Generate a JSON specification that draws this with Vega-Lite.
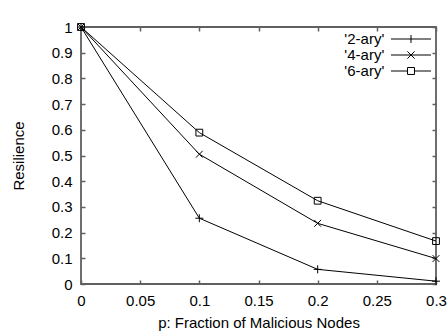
{
  "$schema": "https://vega.github.io/schema/vega-lite/v6.json",
  "width": 355,
  "height": 257,
  "autosize": {"type": "none"},
  "padding": {"left": 81, "top": 27, "right": 12, "bottom": 51},
  "background": "white",
  "config": {
    "view": {"stroke": "#606060", "strokeWidth": 1.8},
    "font": "Liberation Sans",
    "axis": {
      "domain": false,
      "grid": false,
      "tickColor": "#606060",
      "tickWidth": 1.5,
      "tickSize": -4,
      "labelFont": "Liberation Sans",
      "labelFontSize": 15,
      "labelColor": "black",
      "labelPadding": 13,
      "labelFlush": false,
      "labelOverlap": false,
      "titleFont": "Liberation Sans",
      "titleFontSize": 15,
      "titleFontWeight": "normal",
      "titleColor": "black"
    }
  },
  "data": {
    "values": [
      {"series": "'2-ary'", "p": 0, "r": 1},
      {"series": "'2-ary'", "p": 0.1, "r": 0.256},
      {"series": "'2-ary'", "p": 0.2, "r": 0.057},
      {"series": "'2-ary'", "p": 0.3, "r": 0.011},
      {"series": "'4-ary'", "p": 0, "r": 1},
      {"series": "'4-ary'", "p": 0.1, "r": 0.505},
      {"series": "'4-ary'", "p": 0.2, "r": 0.236},
      {"series": "'4-ary'", "p": 0.3, "r": 0.099},
      {"series": "'6-ary'", "p": 0, "r": 1},
      {"series": "'6-ary'", "p": 0.1, "r": 0.589},
      {"series": "'6-ary'", "p": 0.2, "r": 0.324},
      {"series": "'6-ary'", "p": 0.3, "r": 0.167}
    ]
  },
  "layer": [
    {
      "mark": {"type": "line", "color": "black", "strokeWidth": 1},
      "encoding": {
        "x": {
          "field": "p", "type": "quantitative",
          "scale": {"domain": [0, 0.3], "nice": false, "zero": false},
          "axis": {
            "orient": "bottom",
            "title": "p: Fraction of Malicious Nodes",
            "values": [0, 0.05, 0.1, 0.15, 0.2, 0.25, 0.3],
            "format": "~g",
            "titlePadding": 7
          }
        },
        "y": {
          "field": "r", "type": "quantitative",
          "scale": {"domain": [0, 1], "nice": false, "zero": false},
          "axis": {
            "orient": "left",
            "title": "Resilience",
            "values": [0, 0.1, 0.2, 0.3, 0.4, 0.5, 0.6, 0.7, 0.8, 0.9, 1],
            "format": "~g",
            "titlePadding": 25
          }
        },
        "detail": {"field": "series"}
      }
    },
    {
      "mark": {"type": "point", "filled": false, "stroke": "black", "strokeWidth": 1, "opacity": 1, "size": 64},
      "encoding": {
        "x": {
          "field": "p", "type": "quantitative",
          "scale": {"domain": [0, 0.3], "nice": false, "zero": false},
          "axis": {
            "orient": "top",
            "title": null,
            "labels": false,
            "values": [0, 0.05, 0.1, 0.15, 0.2, 0.25, 0.3]
          }
        },
        "y": {
          "field": "r", "type": "quantitative",
          "scale": {"domain": [0, 1], "nice": false, "zero": false},
          "axis": {
            "orient": "right",
            "title": null,
            "labels": false,
            "values": [0, 0.1, 0.2, 0.3, 0.4, 0.5, 0.6, 0.7, 0.8, 0.9, 1]
          }
        },
        "shape": {
          "field": "series", "type": "nominal",
          "scale": {
            "domain": ["'2-ary'", "'4-ary'", "'6-ary'"],
            "range": [
              "M-1,0H1M0,-1V1",
              "M-0.85,-0.85L0.85,0.85M0.85,-0.85L-0.85,0.85",
              "M-0.85,-0.85H0.85V0.85H-0.85Z"
            ]
          },
          "legend": null
        }
      }
    },
    {
      "transform": [{"filter": "false"}],
      "mark": {"type": "point", "filled": false, "stroke": "black", "strokeWidth": 1, "opacity": 1},
      "encoding": {
        "x": {"field": "p", "type": "quantitative", "axis": null},
        "y": {"field": "r", "type": "quantitative", "axis": null},
        "shape": {
          "field": "series", "type": "nominal",
          "scale": {
            "domain": ["'2-ary'", "'4-ary'", "'6-ary'"],
            "range": [
              "M-2.76,0H2.76M0,-0.55V0.55",
              "M-2.76,0H2.76M-0.5,-0.5L0.5,0.5M0.5,-0.5L-0.5,0.5",
              "M-2.76,0H-0.48M0.48,0H2.76M-0.48,-0.48H0.48V0.48H-0.48Z"
            ]
          },
          "legend": {
            "title": null,
            "orient": "none",
            "legendX": 322,
            "legendY": 4,
            "padding": 0,
            "rowPadding": 0,
            "symbolSize": 210,
            "symbolStrokeWidth": 1,
            "symbolStrokeColor": "black",
            "symbolFillColor": "transparent",
            "symbolOpacity": 1,
            "labelAlign": "right",
            "labelOffset": -34.75,
            "labelFont": "Liberation Sans",
            "labelFontSize": 15,
            "labelColor": "black",
            "labelLimit": 0
          }
        }
      }
    }
  ],
  "resolve": {
    "axis": {"x": "independent", "y": "independent"},
    "scale": {"shape": "independent"}
  }
}
